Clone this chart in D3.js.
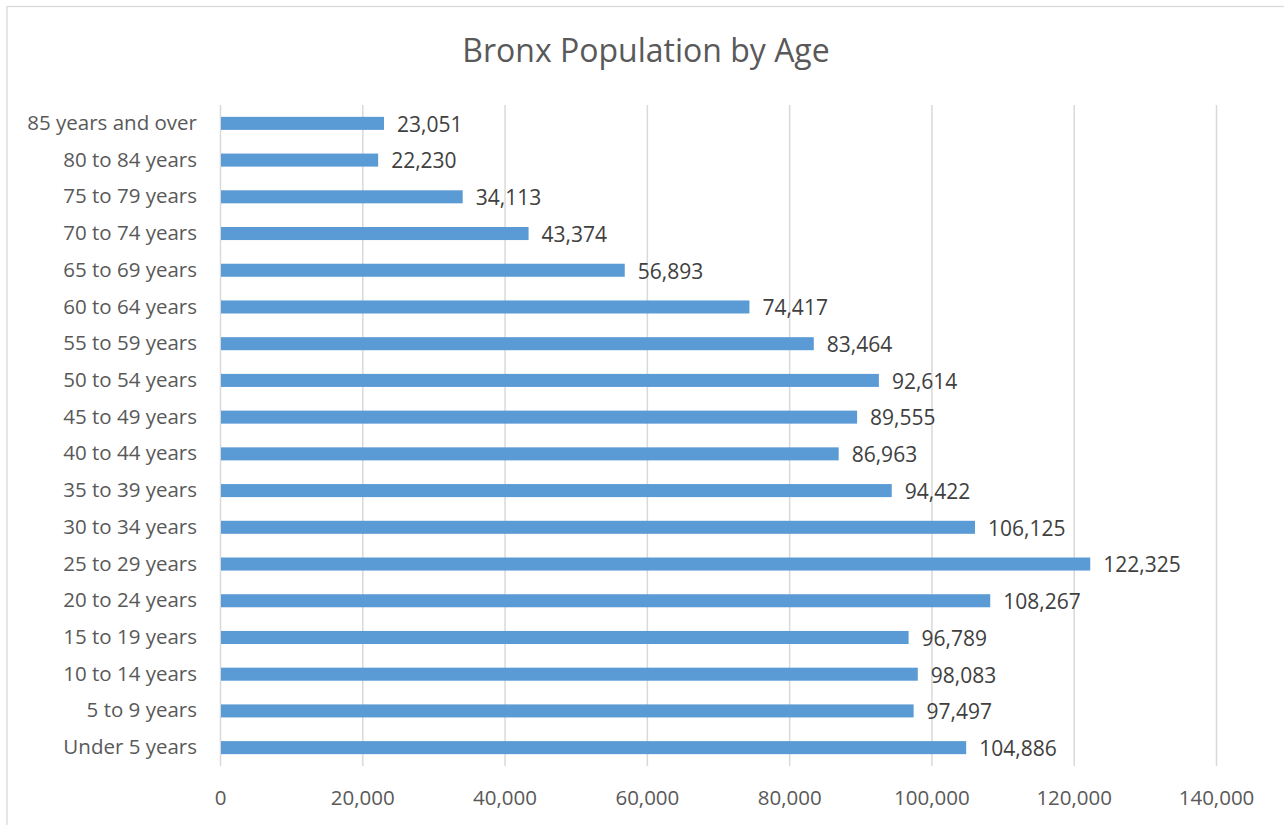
<!DOCTYPE html>
<html>
<head>
<meta charset="utf-8">
<script src="https://cdn.jsdelivr.net/npm/d3@7"></script>
<style>
  body { margin: 0; background: #fff; }
  svg { display: block; }
</style>
</head>
<body>
<svg id="bar-chart"></svg>
<script>
// Age groups, bottom to top as drawn
const ageGroups = ["Under 5 years", "5 to 9 years", "10 to 14 years", "15 to 19 years",
    "20 to 24 years", "25 to 29 years", "30 to 34 years", "35 to 39 years",
    "40 to 44 years", "45 to 49 years", "50 to 54 years", "55 to 59 years",
    "60 to 64 years", "65 to 69 years", "70 to 74 years", "75 to 79 years",
    "80 to 84 years", "85 years and over"];
const population = [104886, 97497, 98083, 96789, 108267, 122325, 106125, 94422,
    86963, 89555, 92614, 83464, 74417, 56893, 43374, 34113, 22230, 23051];
const xTicks = [0, 20000, 40000, 60000, 80000, 100000, 120000, 140000];

const data = ageGroups.map((g, i) => ({ group: g, value: population[i] }));

var W = 1284, H = 825;
var margin = { top: 105, right: 68, bottom: 59, left: 220 };
var width = W - margin.left - margin.right;
var height = H - margin.top - margin.bottom;

const root = d3.select("#bar-chart").attr("width", W).attr("height", H);
const font = "'Open Sans', sans-serif";
const textColor = "#595959";

// chart border
root.append("rect")
    .attr("x", 7).attr("y", 6.5)
    .attr("width", 1290).attr("height", 840)
    .attr("fill", "none").attr("stroke", "#d9d9d9").attr("stroke-width", 1.3);

// Title
root.append("text")
    .attr("x", 646).attr("y", 62)
    .attr("text-anchor", "middle")
    .attr("font-family", font).attr("font-size", 32)
    .attr("fill", textColor)
    .text("Bronx Population by Age");

const svg = root.append("g").attr("transform", `translate(${margin.left},${margin.top})`);

const x = d3.scaleLinear().domain([0, 140000]).range([0, width]);
const y = d3.scaleBand()
    .domain(ageGroups.slice().reverse())
    .range([0, height])
    .paddingInner(0.645).paddingOuter(0.3225);

// gridlines
svg.append("g")
    .selectAll("line")
    .data(xTicks)
    .join("line")
    .attr("x1", d => x(d) + 0.5).attr("x2", d => x(d) + 0.5)
    .attr("y1", 0).attr("y2", height)
    .attr("stroke", "#d9d9d9").attr("stroke-width", 1.5);

// X axis labels
const xAxis = svg.append("g")
    .attr("transform", `translate(0, ${height})`)
    .call(d3.axisBottom(x).tickValues(xTicks).tickSize(0).tickPadding(24)
        .tickFormat(d3.format(",")));
xAxis.select(".domain").remove();
xAxis.selectAll("text")
    .attr("font-family", font).attr("font-size", 20.5)
    .attr("fill", textColor);

// Y axis labels
const yAxis = svg.append("g")
    .call(d3.axisLeft(y).tickSize(0).tickPadding(23));
yAxis.select(".domain").remove();
yAxis.selectAll("text")
    .attr("font-family", font).attr("font-size", 20.5)
    .attr("fill", textColor);

// Bars
svg.selectAll("rect.bar")
    .data(data)
    .join("rect")
    .attr("class", "bar")
    .attr("x", x(0) + 1)
    .attr("y", d => y(d.group))
    .attr("width", d => x(d.value) - x(0) - 1)
    .attr("height", y.bandwidth())
    .attr("fill", "#5b9bd5");

// Value labels
svg.selectAll("text.val")
    .data(data)
    .join("text")
    .attr("class", "val")
    .attr("x", d => x(d.value) + 13)
    .attr("y", d => y(d.group) + y.bandwidth() / 2 + 1)
    .attr("dy", "0.35em")
    .attr("font-family", font).attr("font-size", 21)
    .attr("fill", "#404040")
    .text(d => d3.format(",")(d.value));
</script>
</body>
</html>
